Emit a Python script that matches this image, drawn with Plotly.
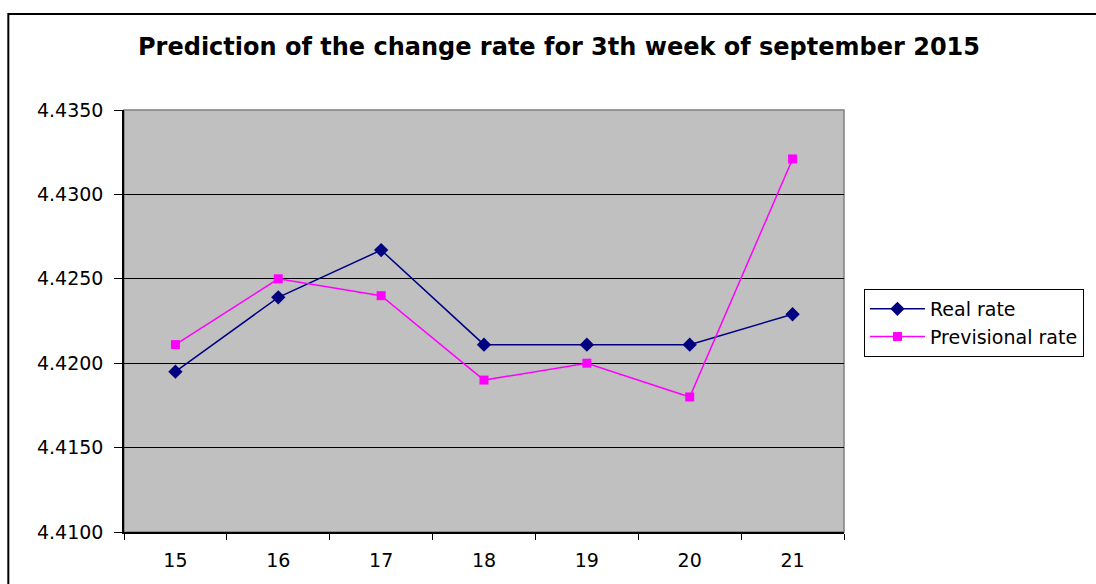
import plotly.graph_objects as go

days = [15, 16, 17, 18, 19, 20, 21]
real_rate = [4.4195, 4.4239, 4.4267, 4.4211, 4.4211, 4.4211, 4.4229]
previsional_rate = [4.4211, 4.4250, 4.4240, 4.4190, 4.4200, 4.4180, 4.4321]
y_ticks = [4.4100, 4.4150, 4.4200, 4.4250, 4.4300, 4.4350]

fig = go.Figure()
fig.add_trace(go.Scatter(
    x=days, y=real_rate, name="Real rate", mode="lines+markers",
    line=dict(color="#000080", width=1.5),
    marker=dict(symbol="diamond", size=11, color="#000080"),
))
fig.add_trace(go.Scatter(
    x=days, y=previsional_rate, name="Previsional rate", mode="lines+markers",
    line=dict(color="#FF00FF", width=1.5),
    marker=dict(symbol="square", size=9, color="#FF00FF"),
))

fig.update_layout(
    width=1096, height=584,
    margin=dict(l=124, r=250, t=110, b=52),
    paper_bgcolor="white",
    plot_bgcolor="#C0C0C0",
    font=dict(family="DejaVu Sans, Arial, sans-serif", size=19, color="black"),
    title=dict(
        text="<b>Prediction of the change rate for 3th week of september 2015</b>",
        x=559 / 1096, xanchor="center", y=1 - 47 / 584, yanchor="middle",
        font=dict(size=24, color="black"),
    ),
    showlegend=True,
    legend=dict(
        x=(866 - 124) / 722, xanchor="left",
        y=(532 - 289) / 422, yanchor="top",
        bgcolor="white", bordercolor="black", borderwidth=1,
        font=dict(size=19), tracegroupgap=0,
        itemwidth=55,
    ),
    xaxis=dict(
        range=[14.5, 21.5],
        tickmode="array", tickvals=days, ticktext=[str(d) for d in days],
        ticks="", showgrid=False, zeroline=False,
        showline=True, linecolor="black", linewidth=1.5,
        minor=dict(tick0=14.5, dtick=1, ticks="outside", ticklen=6,
                   tickcolor="black", tickwidth=1, showgrid=False),
        tickfont=dict(size=19), ticklabelstandoff=10,
    ),
    yaxis=dict(
        range=[4.41, 4.435],
        tickmode="array", tickvals=y_ticks, ticktext=[f"{v:.4f}" for v in y_ticks],
        ticks="outside", ticklen=8, tickcolor="black", tickwidth=1,
        showgrid=True, gridcolor="black", gridwidth=1.2, zeroline=False,
        showline=True, linecolor="black", linewidth=1.5,
        tickfont=dict(size=19), ticklabelstandoff=7,
    ),
    shapes=[
        dict(type="rect", xref="paper", yref="paper",
             x0=0, x1=1, y0=0, y1=1,
             line=dict(color="#808080", width=1.5), layer="below"),
        dict(type="rect", xref="paper", yref="paper",
             x0=(8 - 124) / 722, x1=1.6, y0=-0.5, y1=(532 - 14) / 422,
             line=dict(color="black", width=2), fillcolor="rgba(0,0,0,0)"),
    ],
)

fig.write_html("out.html", config={"displayModeBar": False},
               post_script="document.body.style.margin='0px';")
